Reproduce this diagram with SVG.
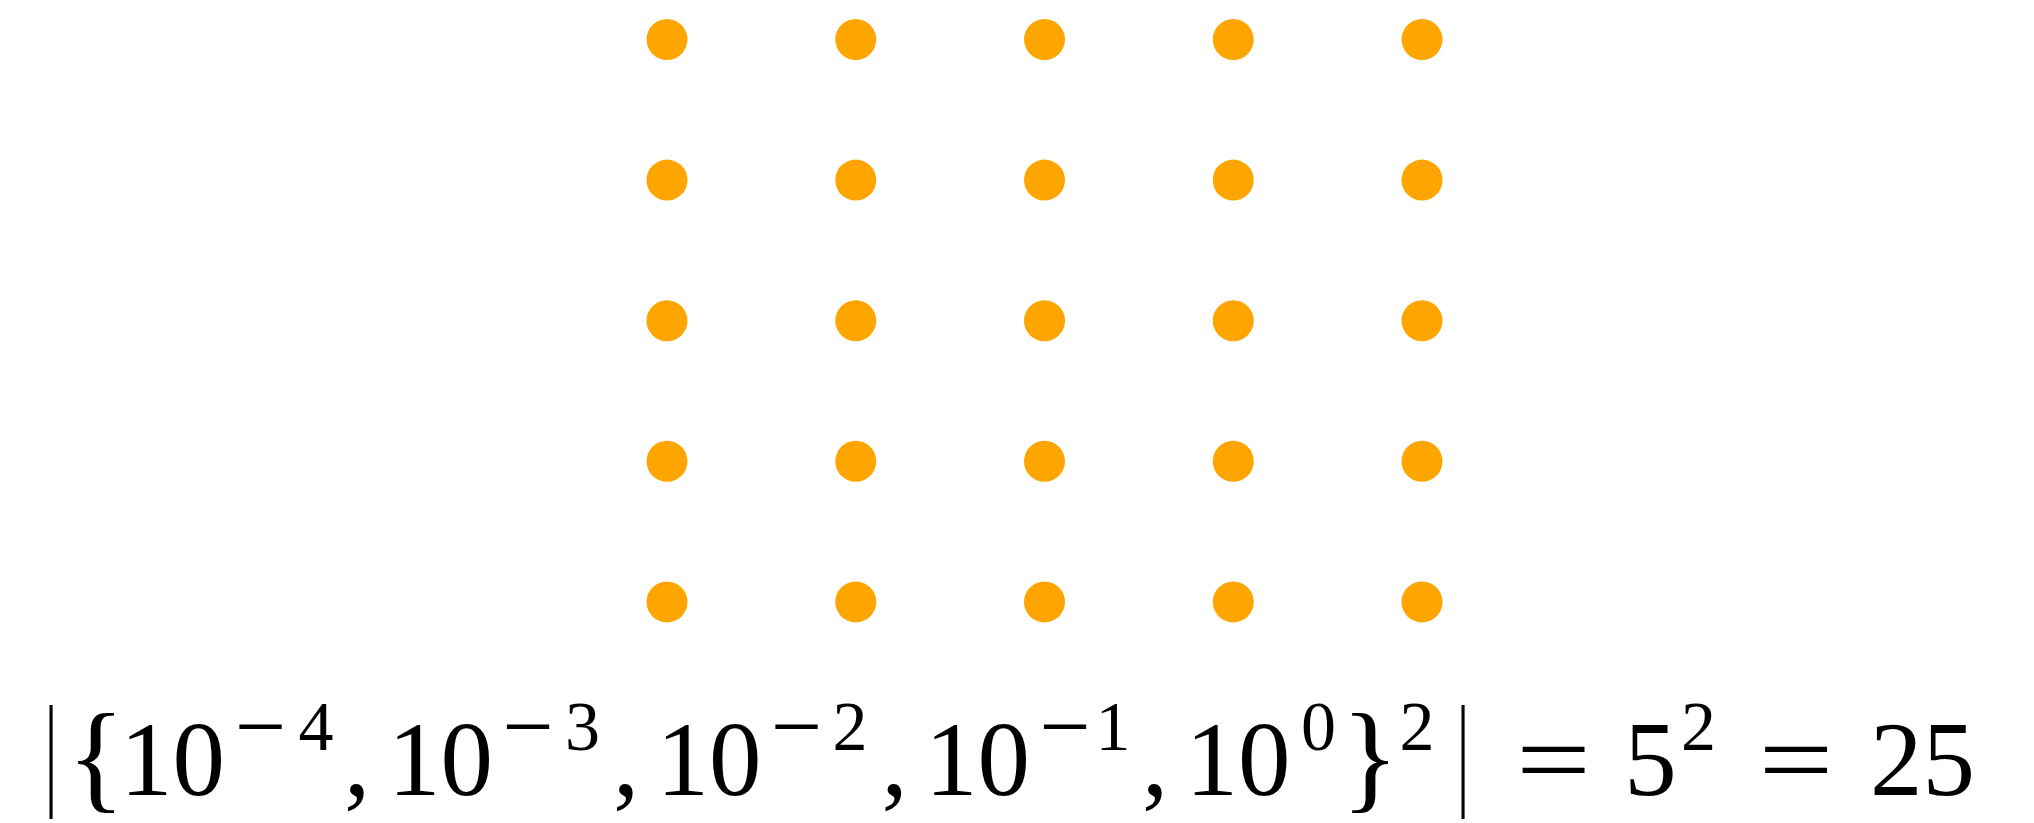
<svg xmlns="http://www.w3.org/2000/svg" width="2034" height="823" viewBox="0 0 2034 823">
<style>
.dot{fill:#FFA500}
.m{font-family:"Liberation Serif","Times New Roman",serif;font-size:105px;fill:#000;text-anchor:middle}
.s{font-family:"Liberation Serif","Times New Roman",serif;font-size:70px;fill:#000;text-anchor:middle}
</style>
<rect width="2034" height="823" fill="#fff"/>
<g id="grid">
<g id="n00"><circle class="dot" cx="667" cy="39.5" r="20.5"/></g>
<g id="n01"><circle class="dot" cx="855.75" cy="39.5" r="20.5"/></g>
<g id="n02"><circle class="dot" cx="1044.5" cy="39.5" r="20.5"/></g>
<g id="n03"><circle class="dot" cx="1233.25" cy="39.5" r="20.5"/></g>
<g id="n04"><circle class="dot" cx="1422" cy="39.5" r="20.5"/></g>
<g id="n10"><circle class="dot" cx="667" cy="180.1" r="20.5"/></g>
<g id="n11"><circle class="dot" cx="855.75" cy="180.1" r="20.5"/></g>
<g id="n12"><circle class="dot" cx="1044.5" cy="180.1" r="20.5"/></g>
<g id="n13"><circle class="dot" cx="1233.25" cy="180.1" r="20.5"/></g>
<g id="n14"><circle class="dot" cx="1422" cy="180.1" r="20.5"/></g>
<g id="n20"><circle class="dot" cx="667" cy="320.7" r="20.5"/></g>
<g id="n21"><circle class="dot" cx="855.75" cy="320.7" r="20.5"/></g>
<g id="n22"><circle class="dot" cx="1044.5" cy="320.7" r="20.5"/></g>
<g id="n23"><circle class="dot" cx="1233.25" cy="320.7" r="20.5"/></g>
<g id="n24"><circle class="dot" cx="1422" cy="320.7" r="20.5"/></g>
<g id="n30"><circle class="dot" cx="667" cy="461.3" r="20.5"/></g>
<g id="n31"><circle class="dot" cx="855.75" cy="461.3" r="20.5"/></g>
<g id="n32"><circle class="dot" cx="1044.5" cy="461.3" r="20.5"/></g>
<g id="n33"><circle class="dot" cx="1233.25" cy="461.3" r="20.5"/></g>
<g id="n34"><circle class="dot" cx="1422" cy="461.3" r="20.5"/></g>
<g id="n40"><circle class="dot" cx="667" cy="601.9" r="20.5"/></g>
<g id="n41"><circle class="dot" cx="855.75" cy="601.9" r="20.5"/></g>
<g id="n42"><circle class="dot" cx="1044.5" cy="601.9" r="20.5"/></g>
<g id="n43"><circle class="dot" cx="1233.25" cy="601.9" r="20.5"/></g>
<g id="n44"><circle class="dot" cx="1422" cy="601.9" r="20.5"/></g>
</g>
<g id="connectors"/>
<g id="formula">
<text class="m" x="51" y="792" transform="translate(51 792) scale(0.6 1.2) translate(-51 -792)">|</text>
<text class="m" x="96" y="797" style="font-size:120px">{</text>
<text class="m" x="172.5" y="795">10</text>
<text class="s" x="260.5" y="750" textLength="50" lengthAdjust="spacingAndGlyphs" style="stroke:#000;stroke-width:0.8">−</text>
<text class="s" x="316" y="750">4</text>
<text class="m" x="357" y="795">,</text>
<text class="m" x="440.5" y="795">10</text>
<text class="s" x="528" y="750" textLength="50" lengthAdjust="spacingAndGlyphs" style="stroke:#000;stroke-width:0.8">−</text>
<text class="s" x="582.5" y="750">3</text>
<text class="m" x="626" y="795">,</text>
<text class="m" x="709" y="795">10</text>
<text class="s" x="796.5" y="750" textLength="50" lengthAdjust="spacingAndGlyphs" style="stroke:#000;stroke-width:0.8">−</text>
<text class="s" x="850" y="750">2</text>
<text class="m" x="894.5" y="795">,</text>
<text class="m" x="977.5" y="795">10</text>
<text class="s" x="1065" y="750" textLength="50" lengthAdjust="spacingAndGlyphs" style="stroke:#000;stroke-width:0.8">−</text>
<text class="s" x="1113" y="750">1</text>
<text class="m" x="1155" y="795">,</text>
<text class="m" x="1238" y="795">10</text>
<text class="s" x="1318.5" y="750">0</text>
<text class="m" x="1370" y="797" style="font-size:120px">}</text>
<text class="s" x="1417" y="750">2</text>
<text class="m" x="1463" y="792" transform="translate(1463 792) scale(0.6 1.2) translate(-1463 -792)">|</text>
<text class="m" x="1553.5" y="795" textLength="75" lengthAdjust="spacingAndGlyphs">=</text>
<text class="m" x="1650.5" y="795">5</text>
<text class="s" x="1698.5" y="750">2</text>
<text class="m" x="1796" y="795" textLength="75" lengthAdjust="spacingAndGlyphs">=</text>
<text class="m" x="1922.5" y="795">25</text>
</g>
</svg>
